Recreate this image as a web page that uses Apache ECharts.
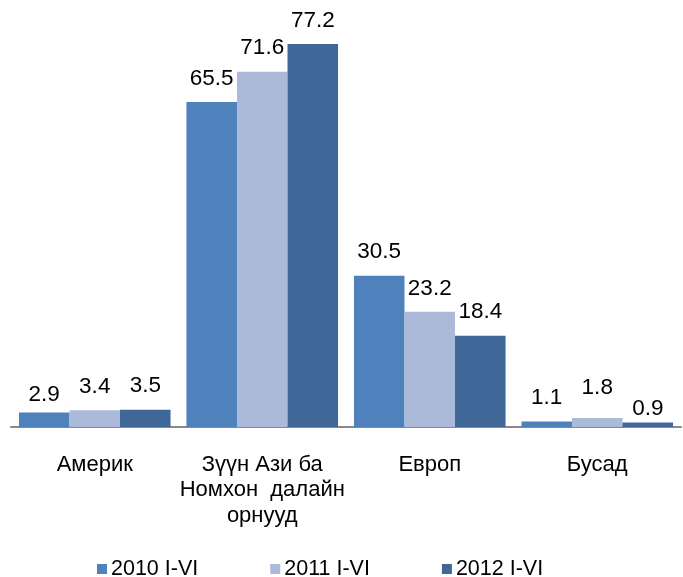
<!DOCTYPE html>
<html>
<head>
<meta charset="utf-8">
<script src="https://cdn.jsdelivr.net/npm/echarts@6/dist/echarts.min.js"></script>
<style>
  html, body { margin: 0; padding: 0; background: #fff; }
  #chart { width: 683px; height: 577px; }
</style>
</head>
<body>
<div id="chart"></div>
<script>
// Regions (x axis categories)
const categories = ['Америк', 'Зүүн Ази ба\nНомхон  далайн\nорнууд', 'Европ', 'Бусад'];

// Period series
const seriesNames = ['2010 I-VI', '2011 I-VI', '2012 I-VI'];
const values2010 = [2.9, 65.5, 30.5, 1.1];
const values2011 = [3.4, 71.6, 23.2, 1.8];
const values2012 = [3.5, 77.2, 18.4, 0.9];

const seriesColors = ['#4F81BD', '#AABAD8', '#3F6898'];
const FONT = '"Liberation Sans", Arial, sans-serif';

// Small vertical nudges for a few value labels that sit off the usual spot
const labelNudge = { '0-0': 6, '1-3': -7, '2-3': 10 };

function buildSeries(values, s) {
  return {
    name: seriesNames[s],
    type: 'bar',
    barGap: 0,
    barCategoryGap: '9.5%',
    itemStyle: { color: seriesColors[s] },
    label: {
      show: true,
      position: 'top',
      distance: 12,
      color: '#000',
      fontFamily: FONT,
      fontSize: 22.5
    },
    data: values.map((v, i) => {
      const dy = labelNudge[s + '-' + i];
      return dy ? { value: v, label: { offset: [0, dy] } } : v;
    })
  };
}

const chart = echarts.init(document.getElementById('chart'), null, { renderer: 'canvas' });
chart.setOption({
  animation: false,
  backgroundColor: '#fff',
  textStyle: { fontFamily: FONT },
  grid: { left: 11, right: 2, top: 30, bottom: 150, containLabel: false },
  legend: {
    left: 92,
    top: 553,
    icon: 'rect',
    itemWidth: 10,
    itemHeight: 10,
    itemGap: 72,
    textStyle: { fontFamily: FONT, fontSize: 21.5, color: '#000', padding: [0, 0, 0, -1] },
    data: seriesNames
  },
  xAxis: {
    type: 'category',
    data: categories,
    axisLine: { show: true, lineStyle: { color: '#898989', width: 2 } },
    axisTick: { show: false },
    axisLabel: {
      interval: 0,
      margin: 25,
      color: '#000',
      fontFamily: FONT,
      fontSize: 22,
      lineHeight: 25.5
    }
  },
  yAxis: {
    type: 'value',
    min: 0,
    max: 80,
    show: false,
    splitLine: { show: false }
  },
  series: [
    buildSeries(values2010, 0),
    buildSeries(values2011, 1),
    buildSeries(values2012, 2)
  ]
});
</script>
</body>
</html>
